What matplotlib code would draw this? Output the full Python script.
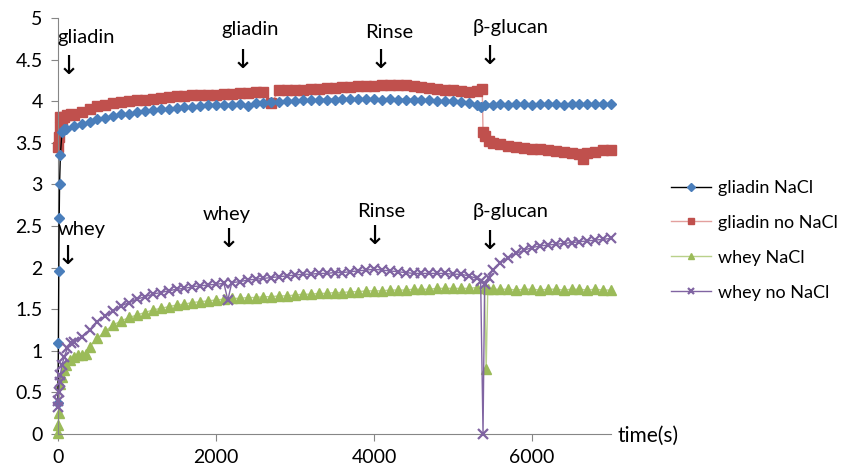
import matplotlib
matplotlib.use('Agg')
import matplotlib.pyplot as plt

plt.rcParams['font.family'] = ['Lato', 'DejaVu Sans']

# gliadin NaCl
t_gn = [0, 5, 10, 15, 20, 30, 50, 70, 100, 200, 300, 400, 500, 600, 700, 800, 900, 1000,
        1100, 1200, 1300, 1400, 1500, 1600, 1700, 1800, 1900, 2000, 2100, 2200, 2300, 2400,
        2500, 2600, 2700, 2800, 2900, 3000, 3100, 3200, 3300, 3400, 3500, 3600, 3700, 3800,
        3900, 4000, 4100, 4200, 4300, 4400, 4500, 4600, 4700, 4800, 4900, 5000, 5100, 5200,
        5300, 5350, 5400, 5500, 5600, 5700, 5800, 5900, 6000, 6100, 6200, 6300, 6400, 6500,
        6600, 6700, 6800, 6900, 7000]
v_gn = [0.37, 1.09, 1.96, 2.59, 3.01, 3.35, 3.63, 3.66, 3.67, 3.70, 3.72, 3.75, 3.78, 3.80,
        3.82, 3.84, 3.85, 3.87, 3.88, 3.89, 3.90, 3.91, 3.92, 3.93, 3.93, 3.94, 3.95, 3.95,
        3.96, 3.96, 3.97, 3.94, 3.98, 3.98, 3.99, 3.99, 4.00, 4.00, 4.01, 4.01, 4.02, 4.02,
        4.02, 4.03, 4.03, 4.03, 4.03, 4.03, 4.02, 4.03, 4.02, 4.02, 4.02, 4.01, 4.01, 4.00,
        4.00, 4.00, 3.99, 3.98, 3.96, 3.93, 3.96, 3.96, 3.97, 3.96, 3.97, 3.97, 3.96, 3.97,
        3.97, 3.97, 3.96, 3.97, 3.97, 3.97, 3.97, 3.97, 3.97]

# gliadin no NaCl
t_gx = [0, 10, 20, 30, 50, 80, 120, 160, 200, 300, 400, 500, 600, 700, 800, 900, 1000, 1100,
        1200, 1300, 1400, 1500, 1600, 1700, 1800, 1900, 2000, 2100, 2200, 2300, 2400, 2500,
        2600, 2700, 2800, 2900, 3000, 3100, 3200, 3300, 3400, 3500, 3600, 3700, 3800, 3900,
        4000, 4100, 4200, 4300, 4400, 4500, 4600, 4700, 4800, 4900, 5000, 5100, 5200, 5300,
        5370, 5380, 5400, 5450, 5500, 5600, 5700, 5800, 5900, 6000, 6100, 6200, 6300, 6400,
        6500, 6600, 6650, 6700, 6800, 6900, 7000]
v_gx = [3.45, 3.57, 3.81, 3.69, 3.75, 3.81, 3.83, 3.84, 3.83, 3.87, 3.91, 3.94, 3.96, 3.98,
        3.99, 4.00, 4.01, 4.02, 4.03, 4.04, 4.05, 4.06, 4.06, 4.07, 4.07, 4.08, 4.08, 4.09,
        4.09, 4.10, 4.10, 4.11, 4.11, 3.98, 4.13, 4.13, 4.14, 4.14, 4.15, 4.15, 4.16, 4.16,
        4.17, 4.17, 4.18, 4.18, 4.18, 4.19, 4.19, 4.19, 4.19, 4.18, 4.17, 4.16, 4.15, 4.14,
        4.13, 4.12, 4.11, 4.12, 4.15, 3.63, 3.58, 3.52, 3.50, 3.48, 3.46, 3.45, 3.44, 3.43,
        3.42, 3.41, 3.40, 3.39, 3.38, 3.37, 3.30, 3.38, 3.39, 3.41, 3.41]

# whey NaCl
t_wn = [0, 5, 10, 30, 50, 70, 100, 150, 200, 250, 300, 350, 400, 500, 600, 700, 800, 900,
        1000, 1100, 1200, 1300, 1400, 1500, 1600, 1700, 1800, 1900, 2000, 2100, 2200, 2300,
        2400, 2500, 2600, 2700, 2800, 2900, 3000, 3100, 3200, 3300, 3400, 3500, 3600, 3700,
        3800, 3900, 4000, 4100, 4200, 4300, 4400, 4500, 4600, 4700, 4800, 4900, 5000, 5100,
        5200, 5300, 5400, 5420, 5440, 5500, 5600, 5700, 5800, 5900, 6000, 6100, 6200, 6300,
        6400, 6500, 6600, 6700, 6800, 6900, 7000]
v_wn = [0.01, 0.11, 0.25, 0.60, 0.69, 0.77, 0.83, 0.89, 0.93, 0.95, 0.95, 0.96, 1.05, 1.15,
        1.24, 1.31, 1.36, 1.40, 1.43, 1.46, 1.49, 1.51, 1.53, 1.55, 1.56, 1.58, 1.59, 1.60,
        1.61, 1.62, 1.63, 1.63, 1.64, 1.64, 1.65, 1.65, 1.66, 1.66, 1.67, 1.68, 1.68, 1.69,
        1.69, 1.70, 1.70, 1.71, 1.71, 1.72, 1.72, 1.72, 1.73, 1.73, 1.73, 1.74, 1.74, 1.74,
        1.75, 1.75, 1.75, 1.75, 1.75, 1.76, 1.75, 0.78, 1.74, 1.74, 1.74, 1.74, 1.73, 1.74,
        1.74, 1.73, 1.74, 1.74, 1.73, 1.74, 1.74, 1.73, 1.74, 1.73, 1.73]

# whey no NaCl
t_wx = [0, 5, 10, 20, 30, 50, 80, 120, 160, 200, 300, 400, 500, 600, 700, 800, 900, 1000,
        1100, 1200, 1300, 1400, 1500, 1600, 1700, 1800, 1900, 2000, 2100, 2150, 2200, 2300,
        2400, 2500, 2600, 2700, 2800, 2900, 3000, 3100, 3200, 3300, 3400, 3500, 3600, 3700,
        3800, 3900, 4000, 4100, 4200, 4300, 4400, 4500, 4600, 4700, 4800, 4900, 5000, 5100,
        5200, 5300, 5350, 5380, 5400, 5450, 5500, 5600, 5700, 5800, 5900, 6000, 6100, 6200,
        6300, 6400, 6500, 6600, 6700, 6800, 6900, 7000]
v_wx = [0.33, 0.40, 0.50, 0.62, 0.71, 0.83, 0.93, 1.03, 1.09, 1.10, 1.17, 1.25, 1.35, 1.42,
        1.48, 1.54, 1.58, 1.62, 1.65, 1.68, 1.70, 1.72, 1.74, 1.75, 1.77, 1.78, 1.79, 1.80,
        1.81, 1.61, 1.82, 1.83, 1.85, 1.86, 1.87, 1.88, 1.89, 1.90, 1.91, 1.92, 1.92, 1.93,
        1.93, 1.94, 1.94, 1.95, 1.96, 1.97, 1.98, 1.97, 1.96, 1.95, 1.94, 1.93, 1.93, 1.93,
        1.93, 1.93, 1.92, 1.92, 1.90, 1.87, 1.84, 0.0, 1.80, 1.88, 1.97, 2.06, 2.12, 2.17,
        2.21, 2.24, 2.26, 2.27, 2.28, 2.29, 2.30, 2.31, 2.32, 2.33, 2.34, 2.35]

# event labels: text, x, y of label, x, y of arrow
events = [('gliadin', -10, 4.76, 140, 4.41),
          ('gliadin', 2064, 4.86, 2342, 4.48),
          ('Rinse', 3887, 4.83, 4089, 4.48),
          ('β-glucan', 5254, 4.89, 5469, 4.53),
          ('whey', 0, 2.46, 127, 2.13),
          ('whey', 1836, 2.64, 2165, 2.33),
          ('Rinse', 3785, 2.67, 4013, 2.37),
          ('β-glucan', 5254, 2.67, 5469, 2.31)]

fig = plt.figure(figsize=(8.43, 4.73), dpi=100)
ax = fig.add_axes([0.0688, 0.0825, 0.656, 0.8795])

ax.plot(t_gn, v_gn, color='black', lw=1, marker='D', ms=5.5, mfc='#4A7EBB', mec='#4A7EBB',
        label='gliadin NaCl', clip_on=False, zorder=3)
ax.plot(t_gx, v_gx, color='#E3A09E', lw=1, marker='s', ms=7, mfc='#C0504D', mec='#C0504D',
        label='gliadin no NaCl', clip_on=False, zorder=2)
ax.plot(t_wn, v_wn, color='#B9D18A', lw=1, marker='^', ms=7, mfc='#9BBB59', mec='#9BBB59',
        label='whey NaCl', clip_on=False, zorder=2)
ax.plot(t_wx, v_wx, color='#8064A2', lw=1, marker='x', ms=6.5, mew=1.6, mec='#8064A2',
        label='whey no NaCl', clip_on=False, zorder=3)

for name, tx, ty, ax_x, ax_y in events:
    ax.text(tx, ty, name, fontsize=14.5, ha='left', va='center')
    ax.text(ax_x, ax_y, '↓', fontsize=19, ha='center', va='center', family='DejaVu Sans')

ax.set_xlim(0, 7000)
ax.set_ylim(0, 5)
ax.set_xticks([0, 2000, 4000, 6000])
ax.set_yticks([0, 0.5, 1, 1.5, 2, 2.5, 3, 3.5, 4, 4.5, 5])
ax.set_yticklabels(['0', '0.5', '1', '1.5', '2', '2.5', '3', '3.5', '4', '4.5', '5'])
for s in ['top', 'right']:
    ax.spines[s].set_visible(False)
for s in ['left', 'bottom']:
    ax.spines[s].set_color('#868686')
ax.tick_params(axis='both', colors='#868686', labelcolor='black', labelsize=14, length=5,
               direction='out', pad=6)
ax.text(7080, -0.02, 'time(s)', fontsize=15, ha='left', va='center')

ax.legend(loc='center left', bbox_to_anchor=(0.785, 0.492), bbox_transform=fig.transFigure,
          frameon=False, fontsize=13, handlelength=2.2, labelspacing=1.05,
          handletextpad=0.4, borderpad=0, markerscale=0.7)

fig.savefig('out.png', dpi=100)
